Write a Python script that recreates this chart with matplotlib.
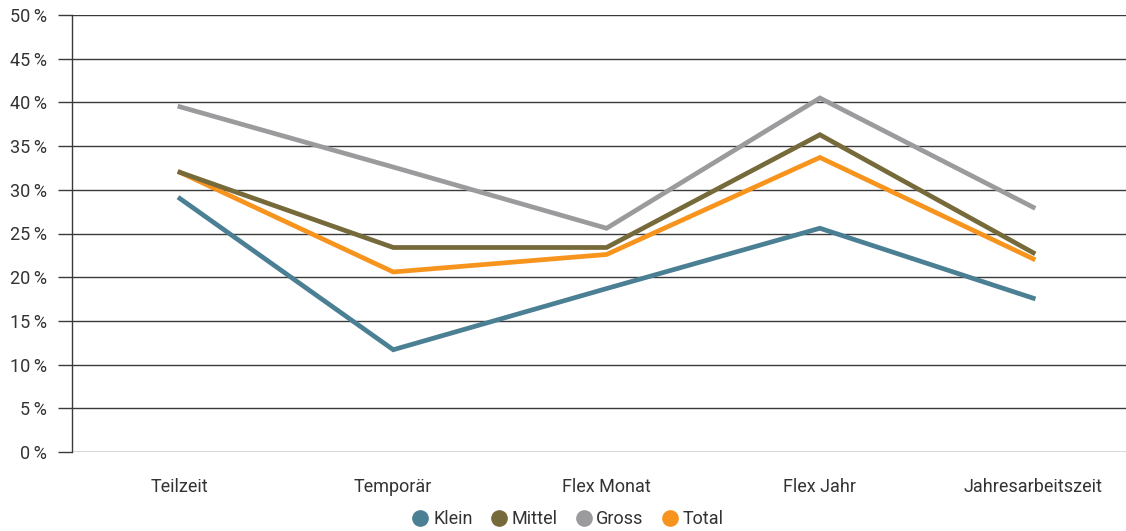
import matplotlib
matplotlib.use("Agg")
import matplotlib.pyplot as plt
from matplotlib.lines import Line2D

categories = ["Teilzeit", "Temporär", "Flex Monat", "Flex Jahr", "Jahresarbeitszeit"]
klein = [29.0, 11.7, 18.7, 25.6, 17.6]
mittel = [32.0, 23.4, 23.4, 36.3, 22.8]
gross = [39.5, 32.6, 25.6, 40.5, 28.0]
total = [32.0, 20.6, 22.6, 33.7, 22.1]
yticks = [0, 5, 10, 15, 20, 25, 30, 35, 40, 45, 50]

colors = {"Klein": "#4a7f94", "Mittel": "#766a3b", "Gross": "#9b9b9d", "Total": "#f7941e"}
text_color = "#333333"

plt.rcParams["font.family"] = ["Roboto", "DejaVu Sans"]

fig = plt.figure(figsize=(11.26, 5.31), dpi=100)
ax = fig.add_axes([72 / 1126, (531 - 452) / 531, (1126 - 72) / 1126, 437 / 531])

x = list(range(len(categories)))
series = [("Klein", klein), ("Total", total), ("Mittel", mittel), ("Gross", gross)]
for name, vals in series:
    ax.plot(x, vals, color=colors[name], lw=3.4, solid_joinstyle="miter", zorder=3)

ax.set_ylim(0, 50)
ax.set_xlim(-0.506, 4.435)
ax.set_yticks(yticks)
ax.set_yticklabels([f"{v}\u2009%" for v in yticks], fontsize=13, color=text_color)
ax.yaxis.grid(True, color="#3a3a3a", lw=1)
ax.set_xticks(x)
ax.set_xticklabels(categories, fontsize=13, color=text_color)
ax.tick_params(axis="x", length=0, pad=19)
ax.tick_params(axis="y", length=10, width=1, color="#3a3a3a", pad=8)

for s in ["top", "right", "bottom"]:
    ax.spines[s].set_visible(False)
ax.spines["left"].set_color("#3a3a3a")
ax.spines["left"].set_linewidth(1)

handles = [Line2D([], [], marker="o", ls="none", markersize=11,
                  markerfacecolor=colors[n], markeredgecolor=colors[n], label=n)
           for n in ["Klein", "Mittel", "Gross", "Total"]]
fig.legend(handles=handles, loc="center", bbox_to_anchor=(567 / 1126, 1 - 519 / 531),
           ncol=4, frameon=False, fontsize=13, handletextpad=0.15, columnspacing=0.9,
           labelcolor=text_color, handlelength=1.1, borderpad=0.2)

fig.savefig("out.png", dpi=100)
